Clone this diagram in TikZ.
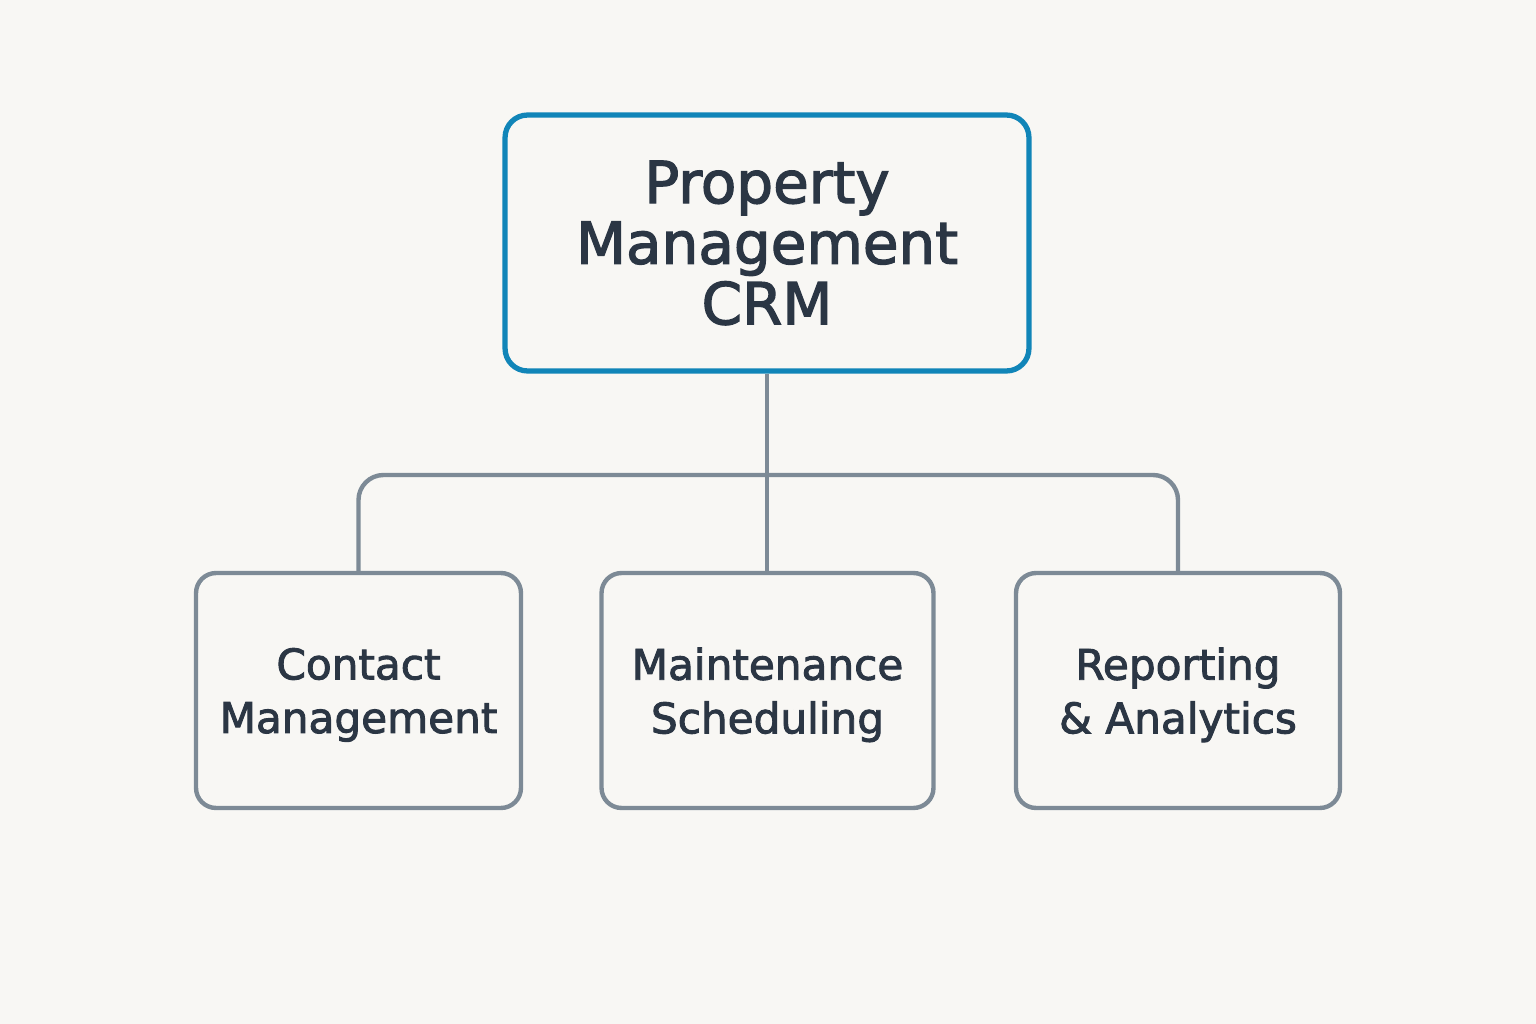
\documentclass[tikz,border=0pt]{standalone}
\usepackage{fontspec}
\setmainfont{DejaVu Sans}[FakeBold=2.2]
\definecolor{bg}{HTML}{F8F7F4}
\definecolor{topblue}{HTML}{1185B8}
\definecolor{boxgray}{HTML}{7D8A96}
\definecolor{txt}{HTML}{2B3644}
\newcommand{\lowertxt}[1]{\raisebox{-2.5pt}[\height][\depth]{\parbox{6cm}{\centering #1}}}
\begin{document}
\begin{tikzpicture}[x=0.02cm,y=-0.02cm,
  topbox/.style={draw=topblue, line width=3pt, rounded corners=0.45cm, fill=bg,
    minimum width=10.48cm, minimum height=5.12cm, align=center, text=txt,
    font=\fontsize{33}{34.5}\selectfont},
  subbox/.style={draw=boxgray, line width=2.5pt, rounded corners=0.4cm, fill=bg,
    minimum height=4.7cm, align=center, text=txt,
    font=\fontsize{24}{30.5}\selectfont},
  conn/.style={draw=boxgray, line width=2.5pt, rounded corners=0.5cm}]
\fill[bg] (0,0) rectangle (1536,1024);
\useasboundingbox (0,0) rectangle (1536,1024);
\node[topbox] (top) at (767,243) {Property\\Management\\CRM};
\node[subbox, minimum width=6.5cm] (left) at (358.5,690.5) {\lowertxt{Contact\\Management}};
\node[subbox, minimum width=6.64cm] (mid) at (767.5,690.5) {\lowertxt{Maintenance\\Scheduling}};
\node[subbox, minimum width=6.48cm] (right) at (1178,690.5) {\lowertxt{Reporting\\\& Analytics}};
\coordinate (j) at (top.south |- 0,475);
\draw[conn] (left.north) |- (j) -| (right.north);
\draw[conn] (top.south) -- (top.south |- mid.north);
\end{tikzpicture}
\end{document}
